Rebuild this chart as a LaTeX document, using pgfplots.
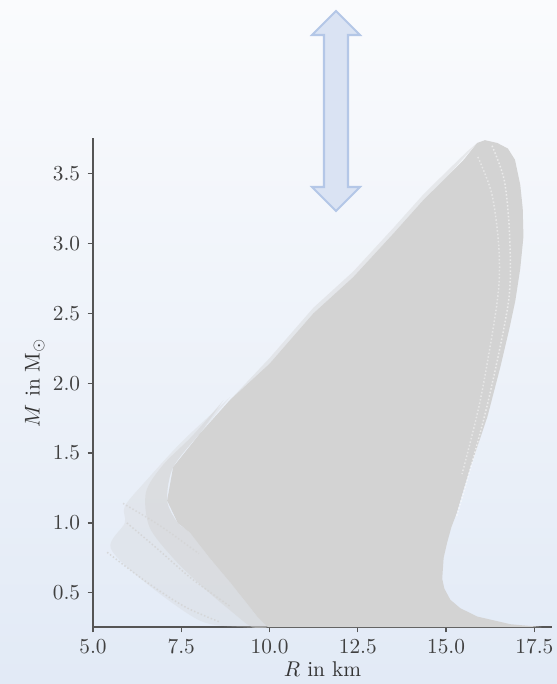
\documentclass[border=0pt]{standalone}
\usepackage{pgfplots}
\pgfplotsset{compat=1.18}
\definecolor{bgtop}{RGB}{250,251,253}
\definecolor{bgbot}{RGB}{226,234,246}
\definecolor{mrgray}{RGB}{211,211,211}
\definecolor{arrfill}{RGB}{218,227,243}
\definecolor{arrdraw}{RGB}{180,199,231}
\definecolor{spine}{RGB}{85,85,85}
\begin{document}
\begin{tikzpicture}
\shade[top color=bgtop, bottom color=bgbot] (0,0) rectangle (261.0pt,320.52pt);
\begin{axis}[
  at={(43.58pt,26.71pt)}, anchor=south west,
  scale only axis, width=215.1pt, height=229.1pt,
  xmin=5, xmax=18.0, ymin=0.255, ymax=3.755,
  axis x line*=bottom, axis y line*=left,
  axis line style={draw=spine, line width=0.8pt, -},
  tick style={draw=spine, line width=0.6pt},
  tick align=outside, major tick length=2.5pt,
  xtick={5,7.5,10,12.5,15,17.5}, ytick={0.5,1,1.5,2,2.5,3,3.5},
  xticklabel style={/pgf/number format/.cd, fixed, fixed zerofill, precision=1},
  yticklabel style={/pgf/number format/.cd, fixed, fixed zerofill, precision=1},
  ticklabel style={text=black!75},
  label style={text=black!80},
  xlabel={$R$ in km}, ylabel={$M$ in $\mathrm{M}_\odot$},
  xlabel shift=-3pt, ylabel shift=-3pt,
]
% outer light fringe (sparse curves at small radius)
\addplot[fill=mrgray, fill opacity=0.3, draw=none, smooth] coordinates {
 (8.88,1.90) (7.55,1.59) (6.53,1.31) (5.9,1.12) (5.9,1.00) (5.5,0.82)
 (6.5,0.57) (8.03,0.30) (9.17,0.255) (9.95,0.255) (9.65,0.33) (8.9,0.57)
 (8.3,0.75) (7.75,0.93) (7.4,1.0) (7.1,1.16) (7.27,1.40) (8.03,1.64)} -- cycle;
% inner fringe
\addplot[fill=mrgray, fill opacity=0.45, draw=none, smooth] coordinates {
 (8.7,1.88) (7.8,1.62) (7.0,1.42) (6.5,1.22) (6.6,0.97) (7.3,0.74) (8.2,0.52)
 (9.0,0.35) (9.5,0.255) (9.95,0.255) (9.65,0.33) (8.9,0.57)
 (8.3,0.75) (7.75,0.93) (7.4,1.0) (7.1,1.16) (7.27,1.40) (8.03,1.64)} -- cycle;
\addplot[mrgray, line width=0.7pt, opacity=0.8, densely dotted, smooth] coordinates {(5.4,0.79) (6.5,0.58) (7.6,0.40) (8.6,0.29)};
\addplot[mrgray, line width=0.7pt, opacity=0.8, densely dotted, smooth] coordinates {(5.96,1.00) (6.8,0.82) (7.8,0.60) (8.9,0.40)};
\addplot[mrgray, line width=0.7pt, opacity=0.7, densely dotted, smooth] coordinates {(5.85,1.14) (6.9,0.98) (8.0,0.78)};
% upper-left ragged band
\addplot[fill=mrgray, fill opacity=0.4, draw=none] coordinates {
 (8.88,1.88) (10.0,2.18) (11.24,2.54) (12.37,2.80) (13.5,3.11) (14.35,3.35)
 (15.03,3.52) (15.6,3.66) (15.88,3.72) (15.03,3.48) (14.35,3.31) (13.5,3.07)
 (12.37,2.76) (11.24,2.50) (10.0,2.14)} -- cycle;
% dense region
\addplot[fill=mrgray, draw=none] coordinates {
 (9.95,0.255) (17.7,0.255) (16.82,0.275) (15.88,0.33) (15.4,0.39) (15.12,0.45)
 (14.95,0.53) (14.89,0.60) (14.93,0.75) (15.03,0.86) (15.15,0.97) (15.3,1.07)
 (15.45,1.2) (15.69,1.40) (15.93,1.58) (16.17,1.76) (16.54,2.12) (16.8,2.4)
 (16.96,2.59) (17.1,2.82) (17.19,3.05) (17.17,3.25) (17.1,3.42) (16.95,3.60)
 (16.75,3.68) (16.45,3.72) (16.1,3.74) (15.88,3.72) (15.5,3.60) (15.03,3.48)
 (14.35,3.31) (13.5,3.07) (12.37,2.76) (11.24,2.50) (10.0,2.14) (8.88,1.88)
 (8.03,1.64) (7.27,1.40) (7.1,1.16) (7.4,1.0) (7.75,0.93) (8.3,0.75)
 (8.9,0.57) (9.65,0.33)} -- cycle;
% light streaks near the outer edge
\addplot[white, opacity=0.55, densely dotted, line width=0.7pt, smooth] coordinates {
 (16.3,3.70) (16.65,3.45) (16.8,3.05) (16.77,2.59) (16.2,1.88) (15.6,1.31) (15.3,1.05)};
\addplot[white, opacity=0.45, densely dotted, line width=0.7pt, smooth] coordinates {
 (15.9,3.62) (16.3,3.35) (16.5,2.95) (16.45,2.59) (15.97,1.88) (15.45,1.35)};
\end{axis}
\begin{scope}[x=0.4686pt, y=-0.4686pt, yshift=320.52pt]
\draw[fill=arrfill, draw=arrdraw, line width=0.95pt, line join=miter]
 (336,11) -- (360,35) -- (348,35) -- (348,187) -- (360,187) -- (336,211)
 -- (312,187) -- (324,187) -- (324,35) -- (312,35) -- cycle;
\end{scope}
\pgfresetboundingbox
\useasboundingbox (0,0) rectangle (261.0pt,320.52pt);
\end{tikzpicture}
\end{document}
